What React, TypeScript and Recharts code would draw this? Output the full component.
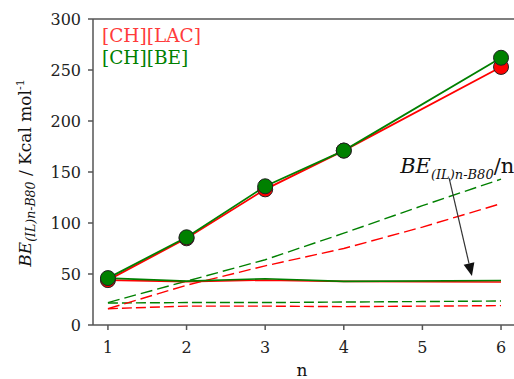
import { LineChart, Line, XAxis, YAxis, ReferenceLine } from "recharts"

const nValues = [1, 2, 3, 4, 5, 6]
const xTicks = [1, 2, 3, 4, 5, 6]
const yTicks = [0, 50, 100, 150, 200, 250, 300]
const seriesNames = ["[CH][LAC]", "[CH][BE]"]

// total binding energy (circles); n = 5 was not computed
const lacTotal = [44, 85, 133, 171, null, 253]
const beTotal = [46, 86, 136, 171, null, 262]
// per-unit binding energy BE/n
const lacPerN = [44, 42.5, 44, 42.8, null, 42.2]
const bePerN = [46, 43, 45.3, 42.8, null, 43.7]
// dashed contributions
const lacDashHi = [16, 39, 58, 75, 96, 119]
const beDashHi = [22, 43, 64, 90, 117, 143]
const lacDashLo = [16, 18.5, 18.5, 18, 18.5, 19]
const beDashLo = [21.5, 22, 22, 22.5, 23, 23.5]

const RED = "#ff0000"
const GREEN = "#008000"
const AXIS = "#555"
// only DejaVu Serif renders as a serif face here
const FONT = "DejaVu Serif"

const data = nValues.map((n, i) => ({
  n,
  lacTotal: lacTotal[i],
  beTotal: beTotal[i],
  lacPerN: lacPerN[i],
  bePerN: bePerN[i],
  lacDashHi: lacDashHi[i],
  beDashHi: beDashHi[i],
  lacDashLo: lacDashLo[i],
  beDashLo: beDashLo[i],
}))

const ArrowNote = (props: any) => {
  const { x1, y1, x2, y2 } = props
  const dx = x2 - x1
  const dy = y2 - y1
  const len = Math.sqrt(dx * dx + dy * dy)
  const ux = dx / len
  const uy = dy / len
  const hx = x2 - ux * 13
  const hy = y2 - uy * 13
  const px = -uy * 5.5
  const py = ux * 5.5
  return (
    <g>
      <text x={x1 - 49} y={y1 - 5} style={{ fontFamily: FONT }} fontSize={21} fill="#111">
        <tspan fontStyle="italic">BE</tspan>
        <tspan fontStyle="italic" fontSize={13} dy={6}>(IL)n-B80</tspan>
        <tspan dy={-6}>/n</tspan>
      </text>
      <line x1={x1} y1={y1} x2={hx} y2={hy} stroke="#333" strokeWidth={1.2} />
      <polygon points={`${x2},${y2} ${hx + px},${hy + py} ${hx - px},${hy - py}`} fill="#111" />
    </g>
  )
}

const YLabel = () => (
  <text
    x={31}
    y={173}
    transform="rotate(-90, 31, 173)"
    textAnchor="middle"
    style={{ fontFamily: FONT }}
    fontSize={17}
    fill="#111"
  >
    <tspan fontStyle="italic">BE</tspan>
    <tspan fontStyle="italic" fontSize={12.5} dy={4}>(IL)n-B80</tspan>
    <tspan dy={-4}> / Kcal mol</tspan>
    <tspan fontSize={11} dy={-7}>-1</tspan>
  </text>
)

const XLabel = () => (
  <text x={302} y={376} textAnchor="middle" style={{ fontFamily: FONT }} fontSize={17} fill="#111">
    n
  </text>
)

// legend drawn as svg text just inside the top-left corner of the plot
const LegendText = (props: any) => {
  const { viewBox } = props
  const x = viewBox.x + 9
  const y = viewBox.y
  return (
    <g fontSize={18.5} style={{ fontFamily: FONT }}>
      <text x={x} y={y + 23} fill="#ff3b3b">{seriesNames[0]}</text>
      <text x={x} y={y + 45} fill={GREEN}>{seriesNames[1]}</text>
    </g>
  )
}

export default function App() {
  const tickStyle = { fontSize: 16, fill: "#222", style: { fontFamily: FONT } }
  return (
    <div style={{ width: 514, height: 379 }}>
      <style>{"body{margin:0}"}</style>
      <LineChart width={514} height={379} data={data} margin={{ top: 19, right: 0, bottom: 24, left: 0 }}>
        <XAxis
          dataKey="n"
          type="number"
          domain={[0.81, 6.165]}
          allowDataOverflow
          ticks={xTicks}
          height={30}
          tickSize={5}
          tickMargin={12}
          tick={tickStyle}
          stroke={AXIS}
          strokeWidth={1.5}
          label={{ content: () => <XLabel /> }}
        />
        <YAxis
          type="number"
          domain={[0, 300]}
          ticks={yTicks}
          width={93}
          tickSize={5}
          tickMargin={7}
          tick={tickStyle}
          stroke={AXIS}
          strokeWidth={1.5}
          label={{ content: () => <YLabel /> }}
        />
        <ReferenceLine
          y={300}
          stroke={AXIS}
          strokeWidth={1.5}
          label={{ content: (p: any) => <LegendText {...p} /> }}
        />

        <Line dataKey="lacDashLo" stroke={RED} strokeWidth={1.4} strokeDasharray="10 4" dot={false} isAnimationActive={false} />
        <Line dataKey="beDashLo" stroke={GREEN} strokeWidth={1.4} strokeDasharray="10 4" dot={false} isAnimationActive={false} />
        <Line dataKey="lacDashHi" stroke={RED} strokeWidth={1.4} strokeDasharray="12 5" dot={false} isAnimationActive={false} />
        <Line dataKey="beDashHi" stroke={GREEN} strokeWidth={1.4} strokeDasharray="12 5" dot={false} isAnimationActive={false} />
        <Line dataKey="lacPerN" stroke={RED} strokeWidth={1.6} dot={false} connectNulls isAnimationActive={false} />
        <Line dataKey="bePerN" stroke={GREEN} strokeWidth={1.6} dot={false} connectNulls isAnimationActive={false} />
        <Line
          dataKey="lacTotal"
          stroke={RED}
          strokeWidth={1.8}
          connectNulls
          dot={{ r: 7.5, fill: RED, stroke: "#222", strokeWidth: 1 }}
          isAnimationActive={false}
        />
        <Line
          dataKey="beTotal"
          stroke={GREEN}
          strokeWidth={1.8}
          connectNulls
          dot={{ r: 7.5, fill: GREEN, stroke: "#222", strokeWidth: 1 }}
          isAnimationActive={false}
        />
        <ReferenceLine
          segment={[
            { x: 5.34, y: 144 },
            { x: 5.63, y: 48 },
          ]}
          ifOverflow="visible"
          shape={(p: any) => <ArrowNote {...p} />}
        />
      </LineChart>
    </div>
  )
}
